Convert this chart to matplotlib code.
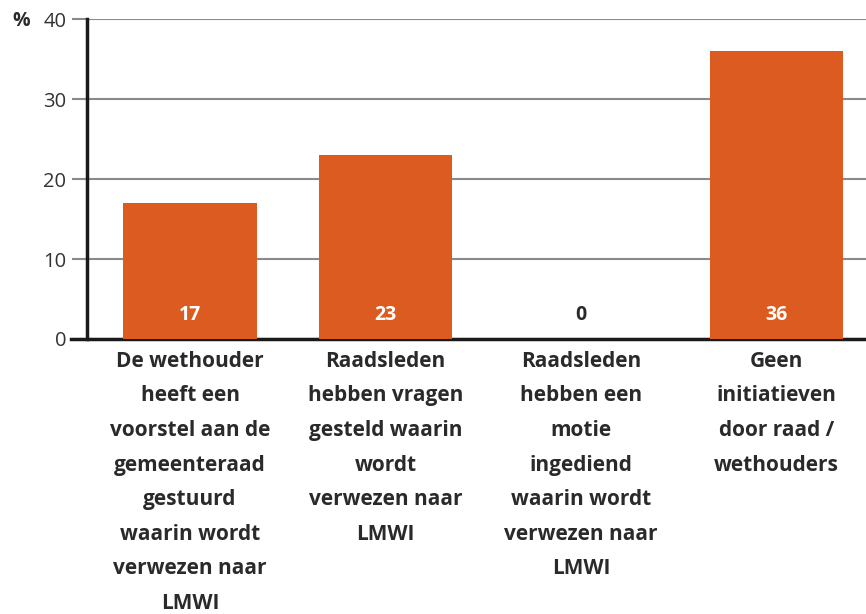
import matplotlib
import numpy as np
import matplotlib.pyplot as plt

matplotlib.rc('font', family=['Open Sans', 'DejaVu Sans'])

categories = [
    'De wethouder\nheeft een\nvoorstel aan de\ngemeenteraad\ngestuurd\nwaarin wordt\nverwezen naar\nLMWI',
    'Raadsleden\nhebben vragen\ngesteld waarin\nwordt\nverwezen naar\nLMWI',
    'Raadsleden\nhebben een\nmotie\ningediend\nwaarin wordt\nverwezen naar\nLMWI',
    'Geen\ninitiatieven\ndoor raad /\nwethouders',
]
values = [17, 23, 0, 36]
yticks = [0, 10, 20, 30, 40]

bar_color = '#dc5b21'
grid_color = '#8a8a8a'
text_color = '#2a2a2a'

fig = plt.figure(figsize=(8.66, 6.14), dpi=100)
ax = fig.add_axes([0.1005, 0.4479, 0.8995, 0.5211])

x = np.arange(len(values))
ax.bar(x, values, width=0.685, color=bar_color, zorder=3)

# value labels near the bottom of each bar
for xi, v in zip(x, values):
    ax.text(xi, 3, str(v), ha='center', va='center', fontsize=14,
            fontweight='bold', color='white' if v > 0 else text_color, zorder=4)

ax.set_xlim(-0.527, 3.458)
ax.set_ylim(0, 40)
ax.set_yticks(yticks)
ax.set_yticklabels([str(t) for t in yticks], fontsize=14.5, color='#333333')
ax.yaxis.grid(True, color=grid_color, linewidth=1.5, zorder=0)
ax.tick_params(axis='y', length=11, width=1.5, color=grid_color, pad=4)

ax.set_xticks(x)
ax.set_xticklabels(categories, fontsize=15, fontweight='bold', color=text_color,
                   linespacing=1.85, va='top')
ax.tick_params(axis='x', length=0, pad=8.5)

for side in ['top', 'right']:
    ax.spines[side].set_visible(False)
ax.spines['left'].set_linewidth(2.5)
ax.spines['left'].set_color('#1a1a1a')
ax.spines['bottom'].set_linewidth(2.5)
ax.spines['bottom'].set_color('#1a1a1a')
ax.spines['bottom'].set_bounds(-0.527 - 0.08, 3.458)
ax.spines['bottom'].set_clip_on(False)

fig.text(0.014, 0.966, '%', fontsize=14, fontweight='bold', color=text_color,
         va='center', ha='left')

fig.savefig('out.png', dpi=100)
